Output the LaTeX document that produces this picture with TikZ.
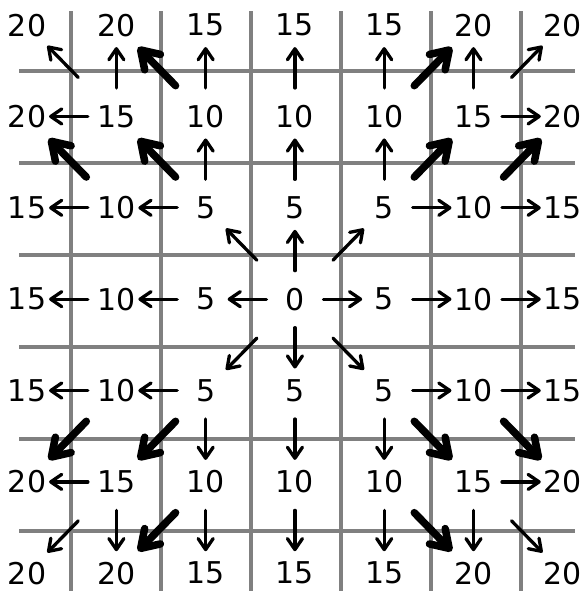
\documentclass[tikz,border=0pt]{standalone}
\usepackage{fontspec}
\setmainfont{DejaVu Sans}
\usepackage{xcolor}
\usepackage{tikz}
\definecolor{gridgray}{RGB}{128,128,128}
\usetikzlibrary{arrows.meta}

\begin{document}
\begin{tikzpicture}[
    x=90pt, y=92pt,
    cell/.style={inner sep=0pt, font=\fontsize{30}{30}\selectfont},
    gridline/.style={draw=gridgray, line width=4pt},
    move/.style={-{Straight Barb[length=11pt, width=15pt, round]}, line width=3.3pt, line cap=round, shorten <=28.5pt, shorten >=22pt},
    diag/.style={move, shorten <=54.5pt, shorten >=29pt},
    jump/.style={-{Straight Barb[length=17pt, width=22pt, round]}, line width=7.5pt, line cap=round, shorten <=43pt, shorten >=31pt},
]
\useasboundingbox (-3.294,-3.152) rectangle (3.194,3.272);

% Grid
\foreach \k in {-2.5,-1.5,-0.5,0.5,1.5,2.5} {
  \draw[gridline] (\k,-3.3) -- (\k,3.15);
  \draw[gridline] (-3.08,\k) -- (3.1,\k);
}

% Cost values
\foreach \vals [count=\r] in {{20,20,15,15,15,20,20},{20,15,10,10,10,15,20},{15,10,5,5,5,10,15},{15,10,5,0,5,10,15},{15,10,5,5,5,10,15},{20,15,10,10,10,15,20},{20,20,15,15,15,20,20}}
  \foreach \v [count=\c] in \vals
    \node[cell] (n\c\r) at ({(\c-4)*0.992-0.017}, {(4-\r)*0.993+0.02}) {\v};

% Straight moves
\foreach \a/\b in {n44/n54, n54/n64, n64/n74, n44/n34, n34/n24, n24/n14,
                   n44/n43, n43/n42, n42/n41, n44/n45, n45/n46, n46/n47,
                   n53/n52, n52/n51, n53/n63, n63/n73, n62/n61, n62/n72,
                   n33/n32, n32/n31, n33/n23, n23/n13, n22/n21, n22/n12,
                   n55/n56, n56/n57, n55/n65, n65/n75, n66/n67, n66/n76,
                   n35/n36, n36/n37, n35/n25, n25/n15, n26/n27, n26/n16}
  \draw[move] (\a.center) -- (\b.center);

% Diagonal moves
\foreach \a/\b in {n44/n53, n44/n33, n44/n55, n44/n35, n62/n71, n22/n11, n66/n77, n26/n17}
  \draw[diag] (\a.center) -- (\b.center);

% Bold diagonals
\foreach \a/\b in {n53/n62, n63/n72, n52/n61, n33/n22, n23/n12, n32/n21,
                   n55/n66, n65/n76, n56/n67, n35/n26, n25/n16, n36/n27}
  \draw[jump] (\a.center) -- (\b.center);

\end{tikzpicture}
\end{document}
